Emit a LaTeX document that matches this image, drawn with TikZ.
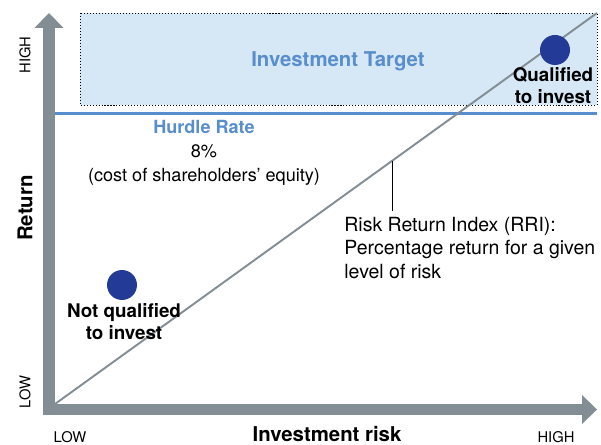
\documentclass[tikz,border=0pt]{standalone}
\usepackage{fontspec}
\setmainfont{TeX Gyre Heros}
\usetikzlibrary{arrows.meta}

\definecolor{axisgray}{RGB}{131,141,148}
\definecolor{targetfill}{RGB}{214,231,245}
\definecolor{hurdleblue}{RGB}{88,142,205}
\definecolor{dotblue}{RGB}{35,58,150}

\def \dotSize {0.6cm}
\def \axisTip {Triangle[width=0.58cm,length=0.3cm,line width=0pt]}

\begin{document}
\begin{tikzpicture}[x=0.02cm, y=-0.02cm,
    axis/.style={draw=axisgray, line width=0.23cm, {\axisTip}-{\axisTip}},
    rriline/.style={draw=axisgray, line width=1.1pt},
    dot/.style={circle, fill=dotblue, minimum size=\dotSize, inner sep=0pt},
    tick/.style={font=\fontsize{8.4}{10}\selectfont},
    axislabel/.style={font=\fontsize{11.6}{13}\selectfont\bfseries},
    verdict/.style={align=center, font=\fontsize{10.7}{12.5}\selectfont\bfseries},
    note/.style={align=center, font=\fontsize{10.3}{13.6}\selectfont}]
      \useasboundingbox (0,0) rectangle (601,445);
      % target area
      \filldraw[fill=targetfill, draw=black, line width=0.5pt, dash pattern=on 0.6pt off 1.1pt] (80,13) rectangle (597,105);
      \node[text=hurdleblue, font=\fontsize{11.6}{13}\selectfont\bfseries] (target) at (338,61) {Investment Target};
      % hurdle rate
      \coordinate (hurdleL) at (55,113.5);
      \coordinate (hurdleR) at (597,113.5);
      \draw[hurdleblue, line width=1.6pt] (hurdleL) -- (hurdleR);
      \node[note] (hurdle) at (204,153) {{\color{hurdleblue}\bfseries Hurdle Rate}\\8\%\\(cost of shareholders' equity)};
      % axes
      \coordinate (ytip) at (49,13);
      \coordinate (corner) at (49,409.5);
      \coordinate (xtip) at (597,409.5);
      \draw[axis] (ytip) -- (corner) -- (xtip);
      % risk return index
      \coordinate (origin) at (55,404);
      \coordinate (rrihigh) at (597,13);
      \draw[rriline] (origin) -- (rrihigh);
      \coordinate (rrimark) at (392,161);
      \node[anchor=west, align=left, inner sep=0pt, font=\fontsize{11.1}{13.6}\selectfont] (rri) at (344,248) {Risk Return Index (RRI):\\Percentage return for a given\\level of risk};
      \draw[line width=0.5pt] (rrimark) -- ([yshift=3pt]rrimark |- rri.north);
      % points
      \node[dot] (qdot) at (555,50) {};
      \node[verdict] (qtext) at (553,86) {Qualified\\to invest};
      \node[dot] (ndot) at (122,285) {};
      \node[verdict] (ntext) at (124,322) {Not qualified\\to invest};
      % axis labels
      \node[axislabel, rotate=90] (yname) at (25,208) {Return};
      \node[tick, rotate=90] (yhigh) at (25,55) {HIGH};
      \node[tick, rotate=90] (ylow) at (25,392) {LOW};
      \node[tick] (xlow) at (70,437) {LOW};
      \node[axislabel] (xname) at (327,434) {Investment risk};
      \node[tick] (xhigh) at (556,437) {HIGH};
   \end{tikzpicture}
\end{document}
